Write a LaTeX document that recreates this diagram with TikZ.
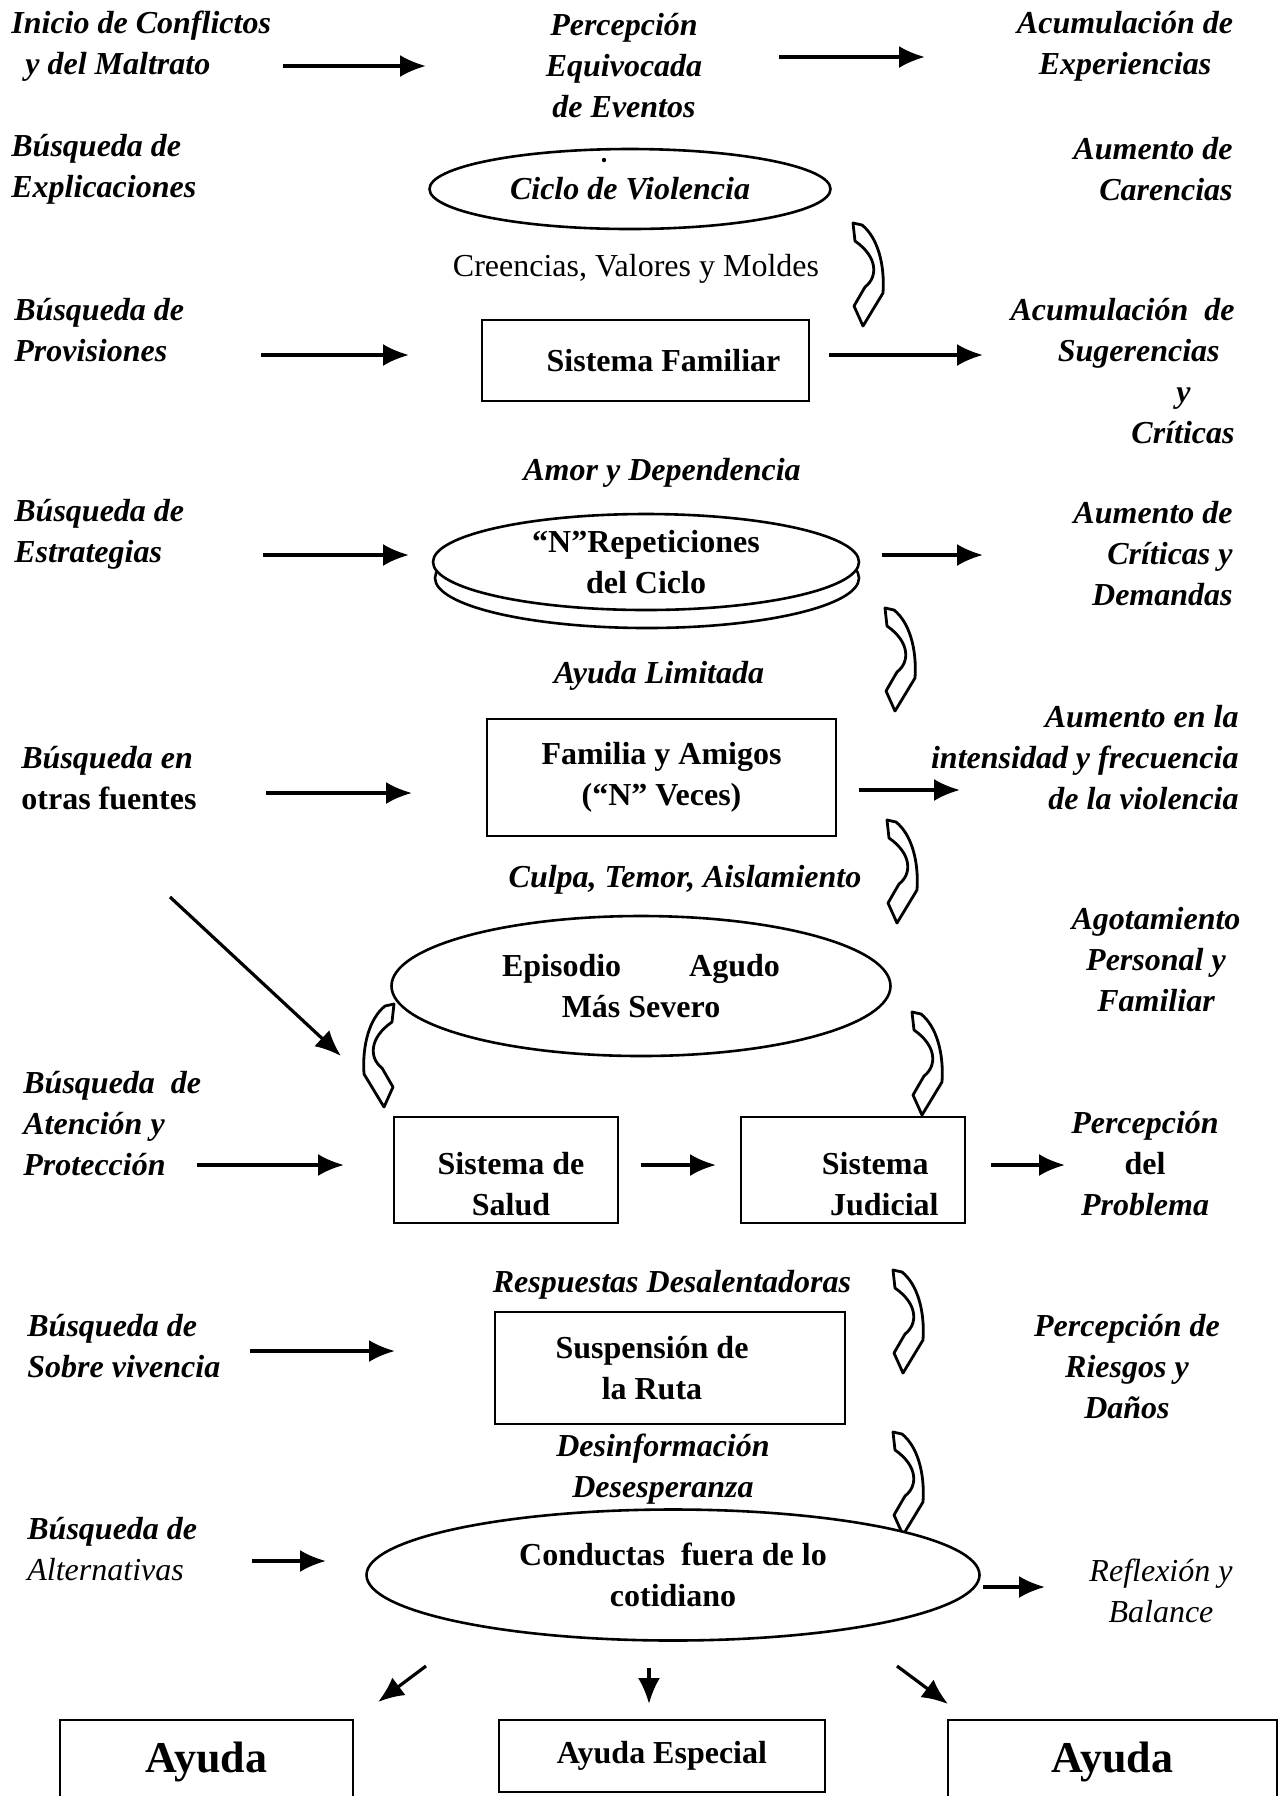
\documentclass[tikz,border=0pt]{standalone}
\usepackage{fontspec}
\setmainfont{Liberation Serif}
\usetikzlibrary{shapes.geometric,arrows.meta}
\newcommand{\fsz}{\fontsize{16pt}{20.5pt}\selectfont}
\newcommand{\padr}[1]{\rule{#1}{0pt}}
\begin{document}
\begin{tikzpicture}[x=0.5pt,y=-0.5pt,
  every node/.style={inner sep=0pt, font=\fsz},
  lab/.style={font=\fsz\bfseries\itshape},
  labl/.style={lab, anchor=west, align=left},
  labr/.style={lab, anchor=east, align=right},
  labc/.style={lab, align=center},
  boxn/.style={draw, line width=1.3pt, rectangle, font=\fsz\bfseries, align=center, fill=white},
  ell/.style={draw, ellipse, line width=1.3pt, fill=white, align=center},
  arr/.style={-{Latex[length=13pt,width=11pt]}, line width=1.6pt},
  carrow/.pic={\draw[line width=1.4pt, fill=white, line join=round]
     (0,0) -- (9,2) .. controls (24,14) and (32,40) .. (30,70) -- (10,103) -- (1,83)
     -- (12,64) .. controls (25,54) and (25,34) .. (2,18) -- cycle;}
]
\useasboundingbox (0,0) rectangle (1285,1796);
\clip (0,0) rectangle (1285,1796);

% ---------- row 1
\node[labl] (t1) at (11,46) {Inicio de Conflictos\\\hspace*{7pt}y del Maltrato};
\node[labc] (t2) at (624,66) {Percepción\\Equivocada\\de Eventos};
\node[labc] (t3) at (1125,46) {Acumulación de\\Experiencias};
\coordinate (a1s) at (283,66); \coordinate (a1e) at (426,66);
\coordinate (a2s) at (779,57); \coordinate (a2e) at (925,57);
\draw[arr] (a1s) -- (a1e);
\draw[arr] (a2s) -- (a2e);

% ---------- row 2
\node[labl] (t4) at (11,169) {Búsqueda de\\Explicaciones};
\node[ell, minimum width=200.5pt, minimum height=40pt, font=\fsz\bfseries\itshape] (e1) at (630,189) {Ciclo de Violencia};
\fill (604,160) circle (1.1pt);
\node[labr] (t5) at (1233,169) {Aumento de\\Carencias};
\pic at (853,223) {carrow};
\node (t6) at (636,269) {Creencias, Valores y Moldes};

% ---------- row 3
\node[labl] (t7) at (14,330) {Búsqueda de\\Provisiones};
\node[boxn, minimum width=163.5pt, minimum height=40.5pt] (b1) at (645.5,360.5) {\hspace*{18pt}Sistema Familiar};
\node[labr] (t8) at (1235,371) {Acumulación\ \ de\\Sugerencias\padr{7.5pt}\\y\padr{22pt}\\Críticas};
\coordinate (a3s) at (261,355); \coordinate (a3e) at (409,355);
\coordinate (a4s) at (829,355); \coordinate (a4e) at (983,355);
\draw[arr] (a3s) -- (a3e);
\draw[arr] (a4s) -- (a4e);
\node[labc] (t9) at (662,473) {Amor y Dependencia};

% ---------- row 4
\node[labl] (t10) at (14,534) {Búsqueda de\\Estrategias};
\node[ell, minimum width=212pt, minimum height=50pt] (e2s) at (647,578) {};
\node[ell, minimum width=213pt, minimum height=48pt, font=\fsz\bfseries] (e2) at (646,562) {“N”Repeticiones\\del Ciclo};
\node[labr] (t11) at (1233,554) {Aumento de\\Críticas y\\Demandas};
\coordinate (a5s) at (263,555); \coordinate (a5e) at (409,555);
\coordinate (a6s) at (882,555); \coordinate (a6e) at (983,555);
\draw[arr] (a5s) -- (a5e);
\draw[arr] (a6s) -- (a6e);
\pic at (885,608) {carrow};
\node[labc] (t12) at (659,676) {Ayuda Limitada};

% ---------- row 5
\node[labl] (t13) at (21,778) {Búsqueda en\\{\upshape otras fuentes}};
\node[boxn, minimum width=174.5pt, minimum height=58.5pt] (b2) at (661.5,777.5) {Familia y Amigos\\(“N” Veces)};
\node[labr] (t14) at (1239,758) {Aumento en la\\intensidad y frecuencia\\de la violencia};
\coordinate (a7s) at (266,793); \coordinate (a7e) at (412,793);
\coordinate (a8s) at (859,790); \coordinate (a8e) at (960,790);
\draw[arr] (a7s) -- (a7e);
\draw[arr] (a8s) -- (a8e);
\pic at (887,820) {carrow};
\node[labc] (t15) at (685,880) {Culpa, Temor, Aislamiento};
\coordinate (a9s) at (170,897); \coordinate (a9e) at (341,1056);
\draw[arr] (a9s) -- (a9e);

% ---------- row 6
\node[ell, minimum width=249.5pt, minimum height=70pt, font=\fsz\bfseries] (e3) at (641,986) {Episodio\hspace{34pt}Agudo\\Más Severo};
\node[labc] (t16) at (1156,960) {Agotamiento\\Personal y\\Familiar};
\pic[xscale=-1] at (394,1004) {carrow};
\pic at (912,1012) {carrow};

% ---------- row 7
\node[labl] (t17) at (23,1124) {Búsqueda\ \ de\\Atención y\\Protección};
\node[boxn, minimum width=112pt, minimum height=53pt] (b3) at (506,1170) {};
\node[font=\fsz\bfseries, align=center] (b3t) at (511,1184) {Sistema de\\Salud};
\node[boxn, minimum width=112pt, minimum height=53pt] (b4) at (853,1170) {};
\node[font=\fsz\bfseries, align=right, anchor=east] (b4t) at (939,1184) {Sistema\padr{5pt}\\Judicial};
\node[labc] (t18) at (1145,1164) {Percepción\\{\upshape del}\\Problema};
\coordinate (a10s) at (197,1165); \coordinate (a10e) at (344,1165);
\coordinate (a11s) at (641,1165); \coordinate (a11e) at (716,1165);
\coordinate (a12s) at (991,1165); \coordinate (a12e) at (1065,1165);
\draw[arr] (a10s) -- (a10e);
\draw[arr] (a11s) -- (a11e);
\draw[arr] (a12s) -- (a12e);

% ---------- row 8
\node[labc] (t19) at (672,1285) {Respuestas Desalentadoras};
\pic at (893,1270) {carrow};
\node[labl] (t20) at (27,1346) {Búsqueda de\\Sobre vivencia};
\node[boxn, minimum width=175pt, minimum height=56pt] (b5) at (670,1368) {\hspace*{-18pt}Suspensión de\\\hspace*{-18pt}la Ruta};
\node[labc] (t21) at (1127,1367) {Percepción de\\Riesgos y\\Daños};
\coordinate (a13s) at (250,1351); \coordinate (a13e) at (395,1351);
\draw[arr] (a13s) -- (a13e);
\node[labc] (t22) at (663,1469) {Desinformación\\Desesperanza};
\pic at (893,1432) {carrow};

% ---------- row 9
\node[labl] (t23) at (27,1549) {Búsqueda de\\{\mdseries Alternativas}};
\node[ell, minimum width=306.5pt, minimum height=65.5pt, font=\fsz\bfseries] (e4) at (673,1575) {Conductas\ \ fuera de lo\\cotidiano};
\node[labc, font=\fsz\itshape] (t24) at (1161,1591) {Reflexión y\\Balance};
\coordinate (a14s) at (252,1561); \coordinate (a14e) at (326,1561);
\coordinate (a15s) at (983,1587); \coordinate (a15e) at (1045,1587);
\draw[arr] (a14s) -- (a14e);
\draw[arr] (a15s) -- (a15e);

% ---------- bottom
\coordinate (a16s) at (426,1666); \coordinate (a16e) at (378,1702);
\coordinate (a17s) at (649,1668); \coordinate (a17e) at (649,1704);
\coordinate (a18s) at (897,1666); \coordinate (a18e) at (948,1704);
\draw[arr] (a16s) -- (a16e);
\draw[arr] (a17s) -- (a17e);
\draw[arr] (a18s) -- (a18e);
\node[boxn, minimum width=146.5pt, minimum height=42pt, font=\fontsize{22pt}{26pt}\selectfont\bfseries] (bl) at (206.5,1762) {Ayuda};
\node[boxn, minimum width=163pt, minimum height=36pt] (bm) at (662,1756) {Ayuda Especial};
\node[boxn, minimum width=164.5pt, minimum height=42pt, font=\fontsize{22pt}{26pt}\selectfont\bfseries] (br) at (1112.5,1762) {Ayuda};
\end{tikzpicture}
\end{document}
